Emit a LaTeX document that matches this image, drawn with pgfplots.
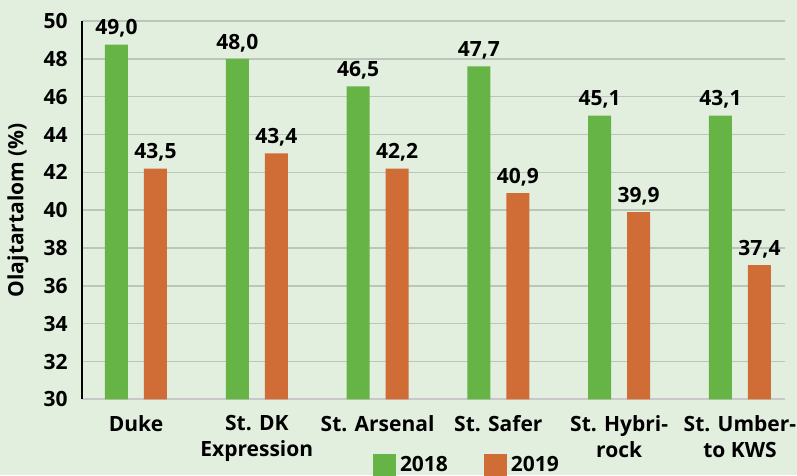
\documentclass[border=0pt]{standalone}
\usepackage{fontspec}
\setmainfont{Open Sans}
\usepackage{pgfplots}
\pgfplotsset{compat=1.18}
\usepackage{pgfplotstable}

\definecolor{bg}{RGB}{226,239,223}
\definecolor{gridc}{RGB}{186,198,183}
\definecolor{axgray}{RGB}{200,200,200}
\definecolor{c2018}{RGB}{102,180,70}
\definecolor{c2019}{RGB}{208,109,55}

% bar heights as drawn, labels as printed
\pgfplotstableread{
x a la b lb
0 48.75 49,0 42.2 43,5
1 48.0 48,0 43.0 43,4
2 46.55 46,5 42.2 42,2
3 47.6 47,7 40.9 40,9
4 45.0 45,1 39.9 39,9
5 45.0 43,1 37.1 37,4
}\oil

\begin{document}
\begin{tikzpicture}
\fill[bg] (-41pt,-37.85pt) rectangle (357.5pt,199.7pt);
\useasboundingbox (-41pt,-37.85pt) rectangle (357.5pt,199.7pt);
\begin{axis}[
  scale only axis,
  width=351.5pt, height=189.2pt,
  ybar,
  xmin=-0.447, xmax=5.373,
  ymin=30, ymax=50,
  ytick={30,32,...,50},
  xtick=data,
  xticklabels={Duke, St. DK\\Expression, St. Arsenal, St. Safer, St. Hybri-\\rock, St. Umber-\\to KWS},
  major tick length=0pt,
  axis x line*=bottom, axis y line*=left,
  x axis line style={-, draw=axgray, line width=1pt},
  y axis line style={-, draw=black, line width=1pt},
  ymajorgrids,
  grid style={draw=gridc, line width=0.7pt},
  tick label style={font=\fontsize{10.5}{13}\selectfont\bfseries},
  yticklabel style={xshift=-3.7pt},
  xticklabel style={align=center, yshift=-4.5pt},
  /pgf/number format/assume math mode=true,
  ylabel={Olajtartalom (\%)},
  ylabel style={at={(axis description cs:-0.091,0.5)}, anchor=center, font=\fontsize{10.5}{13}\selectfont\bfseries},
  bar width=11.5pt,
  point meta=explicit symbolic,
  nodes near coords,
  nodes near coords style={font=\fontsize{10.5}{13}\selectfont\bfseries, black},
  legend columns=2,
  legend style={at={(0.549,-0.14)}, anchor=north, draw=none, fill=none,
    font=\fontsize{10.5}{13}\selectfont\bfseries, inner sep=0pt,
    /tikz/every even column/.append style={column sep=16pt}},
  legend image code/.code={\fill[#1] (0pt,-5.75pt) rectangle (11.5pt,5.75pt);},
]
\addplot[fill=c2018, draw=none, bar shift=-9.75pt] table[x=x, y=a, meta=la] {\oil};
\addplot[fill=c2019, draw=none, bar shift=9.75pt] table[x=x, y=b, meta=lb] {\oil};
\legend{2018, 2019}
\end{axis}
\end{tikzpicture}
\end{document}
